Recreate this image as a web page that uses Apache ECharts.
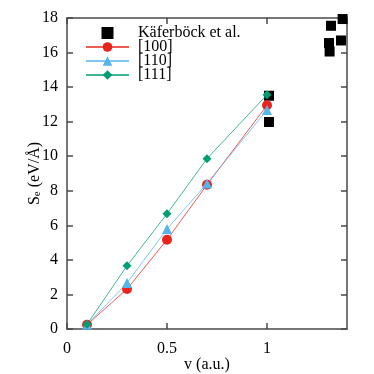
<!DOCTYPE html>
<html><head><meta charset="utf-8">
<script src="https://cdn.jsdelivr.net/npm/echarts@6/dist/echarts.min.js"></script>
<style>html,body{margin:0;padding:0;background:#fff}#c{width:374px;height:374px}</style>
</head><body><div id="c"></div>
<script>
var velocities = [0.1, 0.3, 0.5, 0.7, 1.0];
var s100 = [0.25, 2.31, 5.17, 8.35, 12.95];
var s110 = [0.25, 2.66, 5.79, 8.42, 12.68];
var s111 = [0.27, 3.66, 6.67, 9.86, 13.56];
var kaferX = [1.01, 1.01, 1.31, 1.313, 1.32, 1.37, 1.378];
var kaferY = [13.5, 11.98, 16.55, 16.06, 17.55, 16.7, 17.94];
var xTicks = [0, 0.5, 1];
var yTicks = [0, 2, 4, 6, 8, 10, 12, 14, 16, 18];

function pairs(xs, ys){ return xs.map(function(x,i){return [x, ys[i]];}); }
var FONT = 'Liberation Serif';
var axisCol = '#4a4a4a';
function xa(pos, show){
  return {type:'value', position:pos, min:0, max:1.4, interval:0.5,
    axisLine:{show:true, onZero:false, lineStyle:{color:axisCol, width:1.5}},
    axisTick:{show:true, inside:true, length:6, customValues:xTicks, lineStyle:{color:axisCol, width:1.5}},
    axisLabel:{show:show, customValues:xTicks, color:'#000', fontFamily:FONT, fontSize:16, margin:12,
      formatter:function(v){return String(v);}},
    splitLine:{show:false}};
}
function ya(pos, show){
  return {type:'value', position:pos, min:0, max:18, interval:2,
    axisLine:{show:true, onZero:false, lineStyle:{color:axisCol, width:1.5}},
    axisTick:{show:true, inside:true, length:6, customValues:yTicks, lineStyle:{color:axisCol, width:1.5}},
    axisLabel:{show:show, customValues:yTicks, color:'#000', fontFamily:FONT, fontSize:16, margin:9},
    splitLine:{show:false}};
}
var xBottom = xa('bottom', true);
xBottom.name = 'v (a.u.)'; xBottom.nameLocation = 'middle'; xBottom.nameGap = 28;
xBottom.nameMoveOverlap = false;
xBottom.nameTextStyle = {color:'#000', fontFamily:FONT, fontSize:16};
var yLeft = ya('left', true);
yLeft.name = '{s|S}{e|e}{s| (eV/Å)}'; yLeft.nameLocation = 'middle'; yLeft.nameGap = 24;
yLeft.nameMoveOverlap = false;
yLeft.nameTextStyle = {color:'#000', fontFamily:FONT, fontSize:16,
  rich:{s:{fontFamily:FONT, fontSize:16, color:'#000'}, e:{fontFamily:FONT, fontSize:11, color:'#000', padding:[6,0,0,0]}}};
var xTop = xa('top', false);
var yRight = ya('right', false);

function lineSeries(name, data, color, symbol, size){
  return {name:name, type:'line', xAxisIndex:0, yAxisIndex:0, data:pairs(velocities, data),
    symbol:symbol, symbolSize:size, showSymbol:true,
    itemStyle:{color:color, opacity:1}, lineStyle:{color:color, width:1, opacity:0.75}, z:3};
}
var chart = echarts.init(document.getElementById('c'), null, {renderer:'canvas'});
chart.setOption({
  animation:false,
  grid:{left:67, right:27, top:18, bottom:45, outerBoundsMode:'none', containLabel:false},
  xAxis:[xBottom, xTop],
  yAxis:[yLeft, yRight],
  legend:{orient:'vertical', left:85, top:25, padding:0, itemWidth:43, itemHeight:12, itemGap:-2,
    symbolKeepAspect:true,
    textStyle:{fontFamily:FONT, fontSize:16, color:'#000', padding:[0,0,0,4]},
    data:[{name:'Käferböck et al.', icon:'path://M0,0h10v10h-10z', itemStyle:{color:'#000', opacity:1}}, '[100]', '[110]', '[111]']},
  series:[
    {name:'Käferböck et al.', type:'scatter', data:pairs(kaferX, kaferY), symbol:'rect', symbolSize:10,
      itemStyle:{color:'#000', opacity:1}, z:2},
    lineSeries('[100]', s100, '#e8241c', 'circle', 10),
    lineSeries('[110]', s110, '#56b4e9', 'triangle', 10),
    lineSeries('[111]', s111, '#009e73', 'diamond', 9)
  ]
});
</script></body></html>
